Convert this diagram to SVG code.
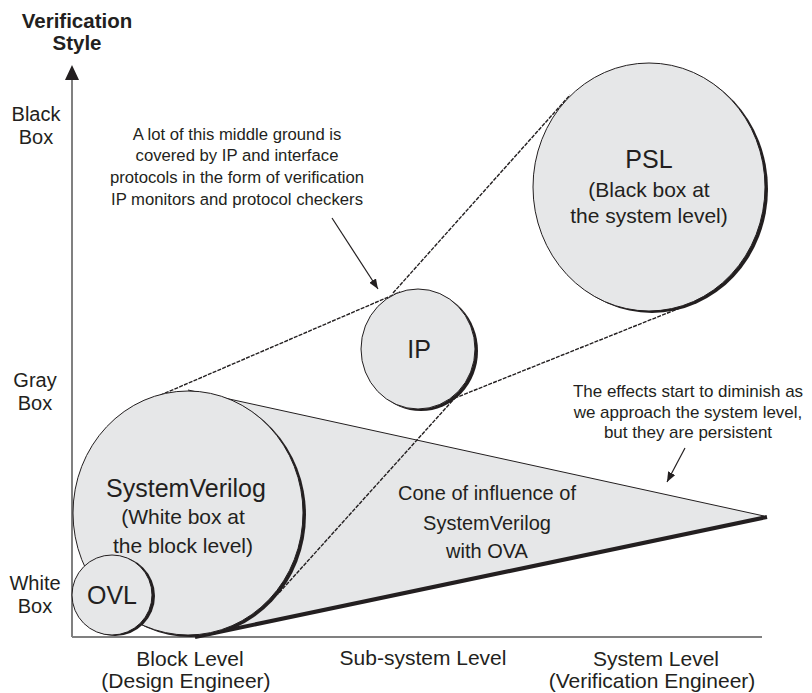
<svg xmlns="http://www.w3.org/2000/svg" width="812" height="693" viewBox="0 0 812 693">
<style>
text{font-family:"Liberation Sans",Arial,sans-serif;fill:#231f20;text-anchor:middle}
.big{font-size:25px}
.sub{font-size:21px}
.ax{font-size:20px}
.xl{font-size:21px}
.note{font-size:16.7px}
.noter{font-size:17px}
.cone{font-size:20px}
.title{font-size:20.5px;font-weight:bold}
.fill{fill:#e6e7e8;stroke:#231f20;stroke-width:1}
.shadow{fill:#231f20}
.dash{fill:none;stroke:#231f20;stroke-width:1.4;stroke-dasharray:4 1.2}
.axis{fill:none;stroke:#808080;stroke-width:2}
.arrow{fill:none;stroke:#231f20;stroke-width:1.2;marker-end:url(#ah)}
</style>
<defs>
<marker id="ah" viewBox="0 0 10 8" refX="10" refY="4" markerWidth="10" markerHeight="8" markerUnits="userSpaceOnUse" orient="auto">
<path d="M0,0 L10,4 L0,8 Z" fill="#231f20"/>
</marker>
</defs>

<g id="axes">
<line x1="72" y1="637" x2="762" y2="637" class="axis"/>
<line x1="72" y1="637" x2="72" y2="80" class="axis"/>
<path d="M72,65 L79,80 L65,80 Z" fill="#231f20"/>
<text class="title" x="77" y="28">Verification</text>
<text class="title" x="77" y="50">Style</text>
<text class="ax" x="36" y="121">Black</text>
<text class="ax" x="36" y="144">Box</text>
<text class="ax" x="35" y="387">Gray</text>
<text class="ax" x="35" y="410">Box</text>
<text class="ax" x="35" y="590">White</text>
<text class="ax" x="35" y="613">Box</text>
<text class="xl" x="190" y="666">Block Level</text>
<text class="xl" x="186" y="688">(Design Engineer)</text>
<text class="xl" x="423" y="665">Sub-system Level</text>
<text class="xl" x="656" y="666">System Level</text>
<text class="xl" x="652" y="688">(Verification Engineer)</text>
</g>

<g id="cone">
<polygon points="188,390 764,516 195,637" fill="#e6e7e8"/>
<line x1="188" y1="390" x2="764" y2="516" stroke="#231f20" stroke-width="1"/>
<line x1="195" y1="637" x2="767" y2="517" stroke="#231f20" stroke-width="4"/>
<text class="cone" x="487" y="500">Cone of influence of</text>
<text class="cone" x="487" y="530">SystemVerilog</text>
<text class="cone" x="487" y="558">with OVA</text>
</g>

<g id="connectors">
<line class="dash" x1="141" y1="403.5" x2="400" y2="292"/>
<line class="dash" x1="393" y1="293" x2="570" y2="95"/>
<line class="dash" x1="440" y1="404" x2="700" y2="300"/>
<line class="dash" x1="463" y1="389" x2="278" y2="594"/>
<line class="arrow" x1="332" y1="218" x2="378" y2="289"/>
<line class="arrow" x1="685" y1="448" x2="667" y2="482"/>
</g>

<g id="systemverilog">
<ellipse class="shadow" cx="191" cy="515" rx="115" ry="122"/>
<ellipse class="fill" cx="188" cy="513" rx="115" ry="122"/>
<text class="big" x="186" y="497">SystemVerilog</text>
<text class="sub" x="183" y="524">(White box at</text>
<text class="sub" x="183" y="553">the block level)</text>
</g>

<g id="ovl">
<ellipse class="shadow" cx="115" cy="596" rx="40" ry="40"/>
<ellipse class="fill" cx="112" cy="595" rx="40" ry="40"/>
<text class="big" x="112" y="604">OVL</text>
</g>

<g id="ip">
<ellipse class="shadow" cx="421" cy="351" rx="57" ry="60"/>
<ellipse class="fill" cx="418" cy="349" rx="57" ry="60"/>
<text class="big" x="419" y="358">IP</text>
</g>

<g id="psl">
<ellipse class="shadow" cx="652" cy="189" rx="116" ry="124"/>
<ellipse class="fill" cx="649" cy="187" rx="116" ry="124"/>
<text class="big" x="649" y="168">PSL</text>
<text class="sub" x="649" y="197">(Black box at</text>
<text class="sub" x="649" y="223">the system level)</text>
</g>

<g id="note-top">
<text class="note" x="237" y="140">A lot of this middle ground is</text>
<text class="note" x="237" y="161">covered by IP and interface</text>
<text class="note" x="237" y="183">protocols in the form of verification</text>
<text class="note" x="237" y="205">IP monitors and protocol checkers</text>
</g>

<g id="note-right">
<text class="noter" x="688" y="397">The effects start to diminish as</text>
<text class="noter" x="688" y="418">we approach the system level,</text>
<text class="noter" x="688" y="438">but they are persistent</text>
</g>
</svg>
